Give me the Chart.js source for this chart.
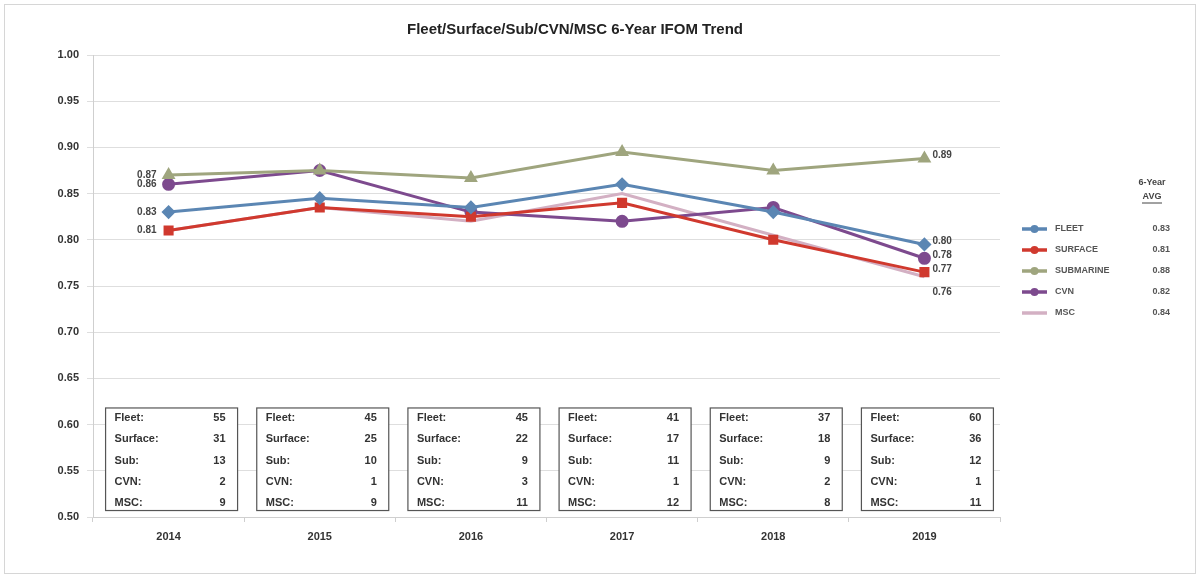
<!DOCTYPE html>
<html>
<head>
<meta charset="utf-8">
<script src="https://cdn.jsdelivr.net/npm/chart.js@4.4.0/dist/chart.umd.min.js"></script>
<style>
  html, body { margin: 0; padding: 0; background: #fff; }
  #wrap { position: relative; width: 1201px; height: 578px; }
  #frame { position: absolute; left: 4px; top: 4px; width: 1190px; height: 568px; border: 1px solid #d6d6d6; }
</style>
</head>
<body>
<div id="wrap">
  <div id="frame"></div>
  <canvas id="myChart" width="1201" height="578"></canvas>
</div>
<script>
// years on the category axis
const years = ["2014", "2015", "2016", "2017", "2018", "2019"];

// IFOM values per series
const fleet     = [0.83, 0.845, 0.835, 0.86, 0.83, 0.795];
const surface   = [0.81, 0.835, 0.825, 0.84, 0.80, 0.765];
const submarine = [0.87, 0.875, 0.867, 0.895, 0.875, 0.888];
const cvn       = [0.86, 0.875, 0.83, 0.82, 0.835, 0.78];
const msc       = [0.81, 0.835, 0.82, 0.85, 0.805, 0.76];

// labels printed next to first / last points
const firstLabels = ["0.83", "0.81", "0.87", "0.86", ""];
const lastLabels  = ["0.80", "0.77", "0.89", "0.78", "0.76"];

// 6-year averages shown in the legend
const seriesNames = ["FLEET", "SURFACE", "SUBMARINE", "CVN", "MSC"];
const sixYearAvg  = ["0.83", "0.81", "0.88", "0.82", "0.84"];

// counts shown in the boxes under each year
const countNames = ["Fleet:", "Surface:", "Sub:", "CVN:", "MSC:"];
const fleetCount   = [55, 45, 45, 41, 37, 60];
const surfaceCount = [31, 25, 22, 17, 18, 36];
const subCount     = [13, 10, 9, 11, 9, 12];
const cvnCount     = [2, 1, 3, 1, 2, 1];
const mscCount     = [9, 9, 11, 12, 8, 11];

const yTicks = [0.50, 0.55, 0.60, 0.65, 0.70, 0.75, 0.80, 0.85, 0.90, 0.95, 1.00];

const colors  = ["#5b86b3", "#d0392e", "#9fa57e", "#7d4a8e", "#d3b0c3"];
const markers = ["rectRot", "rect", "triangle", "circle", false];
const allSeries = [fleet, surface, submarine, cvn, msc];

const FONT = "'Liberation Sans', Arial, sans-serif";

// title, point labels, count boxes and legend
const extras = {
    id: "extras",
    afterDraw(chart) {
        const ctx = chart.ctx;
        const x = chart.scales.x;
        const y = chart.scales.y;
        ctx.save();

        // title
        ctx.fillStyle = "#222";
        ctx.font = "bold 15px " + FONT;
        ctx.textAlign = "center";
        ctx.textBaseline = "middle";
        ctx.fillText("Fleet/Surface/Sub/CVN/MSC 6-Year IFOM Trend", 575, 30);

        // first / last point labels
        ctx.font = "bold 10px " + FONT;
        ctx.fillStyle = "#444";
        allSeries.forEach((s, i) => {
            if (firstLabels[i]) {
                ctx.textAlign = "right";
                ctx.fillText(firstLabels[i], x.getPixelForValue(0) - 12, y.getPixelForValue(s[0]));
            }
            if (lastLabels[i]) {
                ctx.textAlign = "left";
                let py = y.getPixelForValue(s[5]);
                if (i === 4) py += 18;
                ctx.fillText(lastLabels[i], x.getPixelForValue(5) + 8, py - 3);
            }
        });

        // count boxes
        const counts = [fleetCount, surfaceCount, subCount, cvnCount, mscCount];
        const top = y.getPixelForValue(0.618);
        const bottom = y.getPixelForValue(0.507);
        years.forEach((yr, k) => {
            const cx = x.getPixelForValue(k) + 3;
            const left = cx - 66, right = cx + 66;
            ctx.fillStyle = "#fff";
            ctx.fillRect(left, top, right - left, bottom - top);
            ctx.strokeStyle = "#555";
            ctx.lineWidth = 1.2;
            ctx.strokeRect(left, top, right - left, bottom - top);
            ctx.fillStyle = "#333";
            ctx.font = "bold 11px " + FONT;
            countNames.forEach((n, r) => {
                const ry = top + 10 + r * 21.3;
                ctx.textAlign = "left";
                ctx.fillText(n, left + 9, ry);
                ctx.textAlign = "right";
                ctx.fillText(String(counts[r][k]), right - 12, ry);
            });
        });

        // legend
        ctx.fillStyle = "#444";
        ctx.font = "bold 9px " + FONT;
        ctx.textAlign = "center";
        ctx.fillText("6-Year", 1152, 183);
        ctx.fillText("AVG", 1152, 197);
        ctx.strokeStyle = "#444";
        ctx.lineWidth = 1;
        ctx.beginPath();
        ctx.moveTo(1142, 203);
        ctx.lineTo(1162, 203);
        ctx.stroke();
        seriesNames.forEach((n, i) => {
            const ly = 229 + i * 21;
            ctx.strokeStyle = colors[i];
            ctx.lineWidth = 3.5;
            ctx.beginPath();
            ctx.moveTo(1022, ly);
            ctx.lineTo(1047, ly);
            ctx.stroke();
            if (markers[i]) {
                ctx.fillStyle = colors[i];
                ctx.beginPath();
                ctx.arc(1034.5, ly, 4, 0, Math.PI * 2);
                ctx.fill();
            }
            ctx.fillStyle = "#555";
            ctx.font = "bold 9px " + FONT;
            ctx.textAlign = "left";
            ctx.fillText(n, 1055, ly);
            ctx.textAlign = "right";
            ctx.fillText(sixYearAvg[i], 1170, ly);
        });
        ctx.restore();
    }
};

const datasets = seriesNames.map((n, i) => ({
    label: n,
    data: allSeries[i],
    borderColor: colors[i],
    backgroundColor: colors[i],
    borderWidth: 3,
    pointStyle: markers[i],
    pointRadius: markers[i] ? 5 : 0,
    tension: 0
}));

new Chart(document.getElementById("myChart"), {
    type: "line",
    data: { labels: years, datasets: datasets },
    options: {
        responsive: false,
        animation: false,
        layout: { padding: { left: 8, right: 201, top: 55, bottom: 18 } },
        plugins: {
            legend: { display: false },
            title: { display: false },
            tooltip: { enabled: false }
        },
        scales: {
            x: {
                offset: true,
                grid: { display: true, offset: true, drawOnChartArea: false, tickLength: 5, color: "#cfcfcf" },
                border: { color: "#cfcfcf" },
                ticks: { color: "#333", font: { family: FONT, size: 11, weight: "bold" }, padding: 8 },
                afterFit(s) { s.height = 43; }
            },
            y: {
                min: 0.5,
                max: 1.0,
                afterBuildTicks(s) { s.ticks = yTicks.map(v => ({ value: v })); },
                grid: { color: "#dedede", lineWidth: 1, tickLength: 6 },
                border: { color: "#cfcfcf" },
                ticks: {
                    color: "#333",
                    font: { family: FONT, size: 11, weight: "bold" },
                    padding: 8,
                    callback: v => Number(v).toFixed(2)
                },
                afterFit(s) { s.width = 85; }
            }
        }
    },
    plugins: [extras]
});
</script>
</body>
</html>
